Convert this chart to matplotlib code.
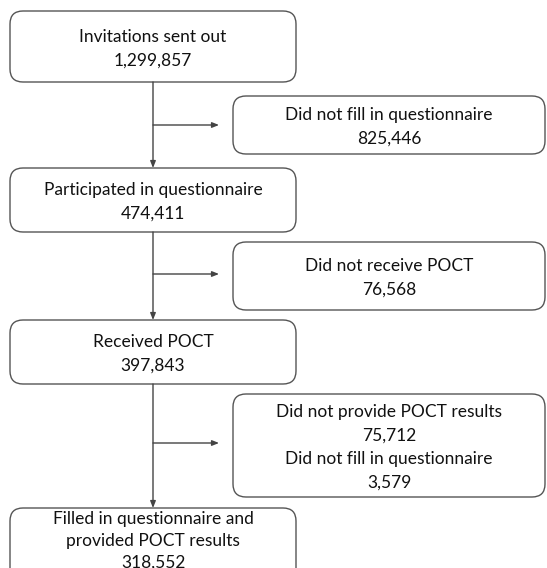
import matplotlib
matplotlib.use("Agg")
import matplotlib.pyplot as plt
from matplotlib.patches import FancyBboxPatch

plt.rcParams['font.family'] = ['Lato', 'DejaVu Sans']

# Main flow stages
main_labels = ["Invitations sent out", "Participated in questionnaire",
               "Received POCT", "Filled in questionnaire and\nprovided POCT results"]
main_counts = [1299857, 474411, 397843, 318552]

# Exclusion boxes
excl_labels = [["Did not fill in questionnaire"],
               ["Did not receive POCT"],
               ["Did not provide POCT results", "Did not fill in questionnaire"]]
excl_counts = [[825446], [76568], [75712, 3579]]

W, H = 547, 568
fig = plt.figure(figsize=(W / 100, H / 100), dpi=100)
ax = fig.add_axes([0, 0, 1, 1])
ax.set_xlim(0, W)
ax.set_ylim(H, 0)
ax.axis('off')

edge = '#555555'
fs = 12.5

# layout (pixels)
main_x0, main_x1 = 10, 296
main_boxes = [(11, 82), (168, 232), (320, 384), (508, 600)]
side_x0, side_x1 = 233, 545
side_boxes = [(96, 154), (242, 310), (394, 497)]
arrow_y = [125, 274, 443]
vx = 153
line_h = 23.5
dy = 2


def rbox(x0, x1, y0, y1):
    p = FancyBboxPatch((x0, y0), x1 - x0, y1 - y0,
                       boxstyle="round,pad=0,rounding_size=13",
                       fc='white', ec=edge, lw=1.0, clip_on=True)
    ax.add_patch(p)


def fmt(n):
    return f"{n:,}"


for i, ((y0, y1), lab, cnt) in enumerate(zip(main_boxes, main_labels, main_counts)):
    rbox(main_x0, main_x1, y0, y1)
    lines = lab.split("\n") + [fmt(cnt)]
    if i < 3:
        cy = (y0 + y1) / 2 + dy
        start = cy - line_h * (len(lines) - 1) / 2
        step = line_h
    else:
        start = y0 + 11
        step = 22
    for k, t in enumerate(lines):
        ax.text((main_x0 + main_x1) / 2, start + k * step, t, ha='center',
                va='center', fontsize=fs, color='#111111')

for (y0, y1), labs, cnts in zip(side_boxes, excl_labels, excl_counts):
    rbox(side_x0, side_x1, y0, y1)
    lines = []
    for l, c in zip(labs, cnts):
        lines += [l, fmt(c)]
    cy = (y0 + y1) / 2 + dy
    start = cy - line_h * (len(lines) - 1) / 2
    for k, t in enumerate(lines):
        ax.text((side_x0 + side_x1) / 2, start + k * line_h, t, ha='center',
                va='center', fontsize=fs, color='#111111')

arrow_kw = dict(arrowstyle='-|>,head_length=0.4,head_width=0.16',
                color='#444444', lw=1.0, shrinkA=0, shrinkB=0)

for i in range(3):
    y_from = main_boxes[i][1]
    y_to = main_boxes[i + 1][0]
    ax.annotate('', xy=(vx, y_to), xytext=(vx, y_from), arrowprops=arrow_kw)
    ax.annotate('', xy=(219, arrow_y[i]), xytext=(vx, arrow_y[i]), arrowprops=arrow_kw)

fig.savefig("out.png", dpi=100, facecolor='white')
